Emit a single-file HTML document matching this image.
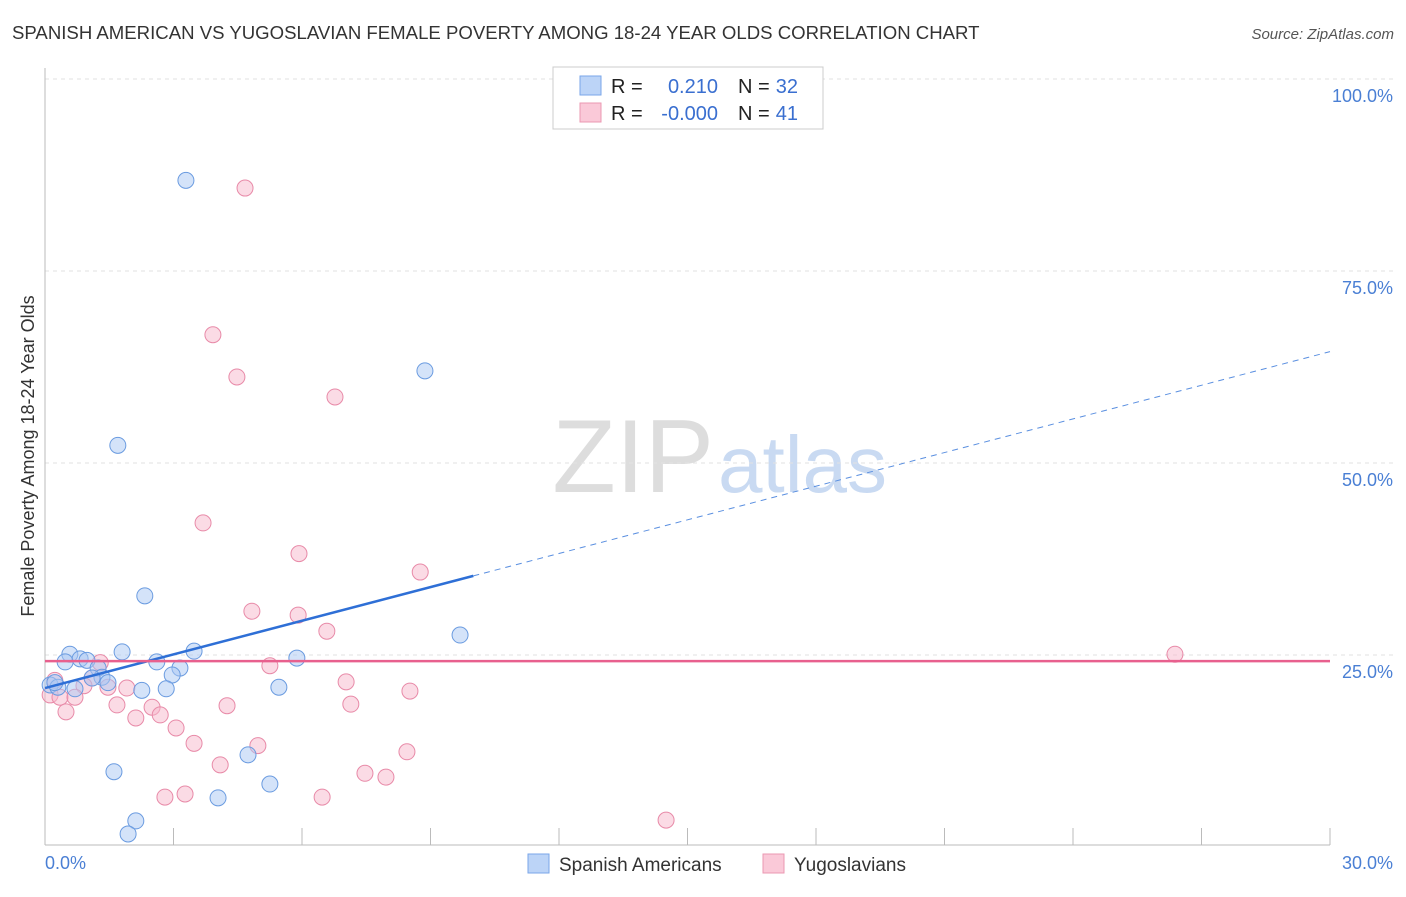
<!DOCTYPE html>
<html><head><meta charset="utf-8"><style>
body{margin:0;background:#fff;font-family:"Liberation Sans",sans-serif;}
svg text{font-family:"Liberation Sans",sans-serif;}
</style></head><body>
<svg id="chart" width="1406" height="892" xmlns="http://www.w3.org/2000/svg">
<text x="12" y="39" font-size="18.6" fill="#333">SPANISH AMERICAN VS YUGOSLAVIAN FEMALE POVERTY AMONG 18-24 YEAR OLDS CORRELATION CHART</text>
<text x="1394" y="39" font-size="15" fill="#555" text-anchor="end" font-style="italic">Source: ZipAtlas.com</text>
<text x="714" y="492" font-size="104" fill="#ddd" text-anchor="end" font-family="Liberation Serif">ZIP</text>
<text x="718" y="492" font-size="80" fill="#c9daf2">atlas</text>
<g id="grid"></g><g id="axes"></g><g id="marks"></g>
<text transform="translate(34,456) rotate(-90)" font-size="18" fill="#333" text-anchor="middle">Female Poverty Among 18-24 Year Olds</text>
<text x="45" y="869" font-size="18" fill="#4a7fd4">0.0%</text>
<text x="1393" y="869" font-size="18" fill="#4a7fd4" text-anchor="end">30.0%</text>
<g>
<rect x="553" y="67" width="270" height="62" fill="#fff" stroke="#ccc"/>
<rect x="580" y="76" width="21" height="19" fill="#bcd4f7" stroke="#7aa6e8"/>
<rect x="580" y="103" width="21" height="19" fill="#fac9d8" stroke="#eb98b2"/>
<text x="611" y="93" font-size="20" fill="#222">R =</text>
<text x="718" y="93" font-size="20" fill="#3a6fd0" text-anchor="end">0.210</text>
<text x="738" y="93" font-size="20" fill="#222">N =</text>
<text x="798" y="93" font-size="20" fill="#3a6fd0" text-anchor="end">32</text>
<text x="611" y="120" font-size="20" fill="#222">R =</text>
<text x="718" y="120" font-size="20" fill="#3a6fd0" text-anchor="end">-0.000</text>
<text x="738" y="120" font-size="20" fill="#222">N =</text>
<text x="798" y="120" font-size="20" fill="#3a6fd0" text-anchor="end">41</text>
</g>
<g>
<rect x="528" y="854" width="21" height="19" fill="#bcd4f7" stroke="#7aa6e8"/>
<text x="559" y="871" font-size="19" fill="#333">Spanish Americans</text>
<rect x="763" y="854" width="21" height="19" fill="#fac9d8" stroke="#eb98b2"/>
<text x="794" y="871" font-size="19" fill="#333">Yugoslavians</text>
</g>
</svg>
<script>
const yTicks=[25,50,75,100];
const yTickLabels=["25.0%","50.0%","75.0%","100.0%"];
const blueX=[3.29,8.87,1.70,2.33,9.69,0.58,1.80,3.48,5.88,0.47,0.82,0.98,2.61,3.15,1.24,2.97,1.33,1.47,0.12,0.30,0.70,2.26,2.83,5.46,4.74,1.61,4.04,5.25,2.12,1.94,0.23,1.10];
const blueY=[86.8,62.0,52.3,32.7,27.6,25.1,25.4,25.5,24.6,24.1,24.5,24.3,24.1,23.3,23.3,22.4,22.1,21.4,21.1,20.8,20.6,20.4,20.6,20.8,12.0,9.8,6.4,8.2,3.4,1.7,21.4,22.0];
const pinkX=[4.67,3.92,4.48,6.77,3.69,5.93,8.76,4.83,5.91,6.58,26.38,1.29,5.25,1.10,0.23,7.03,0.91,1.91,8.52,1.47,0.12,0.35,0.70,1.68,4.25,7.14,2.50,0.49,2.69,2.12,3.06,3.48,4.97,8.45,4.09,7.47,7.96,2.80,3.27,6.47,14.50];
const pinkY=[85.8,66.7,61.2,58.6,42.2,38.2,35.8,30.7,30.2,28.1,25.1,24.0,23.6,22.0,21.7,21.5,21.0,20.7,20.3,20.8,19.8,19.5,19.5,18.5,18.4,18.6,18.2,17.6,17.2,16.8,15.5,13.5,13.2,12.4,10.7,9.6,9.1,6.5,6.9,6.5,3.5];
const blueTrend=[20.7,64.5];
const pinkTrend=[24.2,24.2];
const NS="http://www.w3.org/2000/svg";
const sx=v=>45+v*(1285/30), sy=v=>847-v*7.68;
function mk(t,a,p){const e=document.createElementNS(NS,t);for(const k in a)e.setAttribute(k,a[k]);p.appendChild(e);return e;}
const grid=document.getElementById('grid'),axes=document.getElementById('axes'),marks=document.getElementById('marks');
yTicks.forEach((t,i)=>{
 const l=mk('line',{x1:45,x2:1393,y1:sy(t),y2:sy(t),stroke:'#e2e2e2','stroke-dasharray':'4,4'},grid);
 
 
 const tx=mk('text',{x:1393,y:sy(t)+23,'font-size':18,fill:'#4a7fd4','text-anchor':'end'},grid);
 tx.textContent=yTickLabels[i];
 
 
});
let a=mk('line',{x1:45,x2:1330,y1:845,y2:845,stroke:'#bbb'},axes);


a=mk('line',{x1:45,x2:45,y1:68,y2:845,stroke:'#bbb'},axes);


for(let i=0;i<=10;i++){const t=mk('line',{x1:sx(i*3),x2:sx(i*3),y1:828,y2:845,stroke:'#bbb'},axes);
 
 }
function dot(x,y,f,s,n){const c=mk('circle',{cx:sx(x),cy:sy(y),r:8,fill:f,'fill-opacity':0.5,stroke:s,'stroke-width':1},marks);
 
 }
pinkX.forEach((x,i)=>dot(x,pinkY[i],'#f8b7cb','#e88aa8','yugoslavian-point'));
blueX.forEach((x,i)=>dot(x,blueY[i],'#a9c8f3','#6a9be0','spanish-american-point'));
const by=x=>blueTrend[0]+(blueTrend[1]-blueTrend[0])*x/30;
let l=mk('line',{x1:sx(0),y1:sy(by(0)),x2:sx(10),y2:sy(by(10)),stroke:'#2e6fd6','stroke-width':2.5},marks);


l=mk('line',{x1:sx(10),y1:sy(by(10)),x2:sx(30),y2:sy(by(30)),stroke:'#5a8fe0','stroke-width':1,'stroke-dasharray':'6,5'},marks);


l=mk('line',{x1:sx(0),y1:sy(pinkTrend[0]),x2:sx(30),y2:sy(pinkTrend[1]),stroke:'#e8608e','stroke-width':2.5},marks);


</script>
</body></html>
